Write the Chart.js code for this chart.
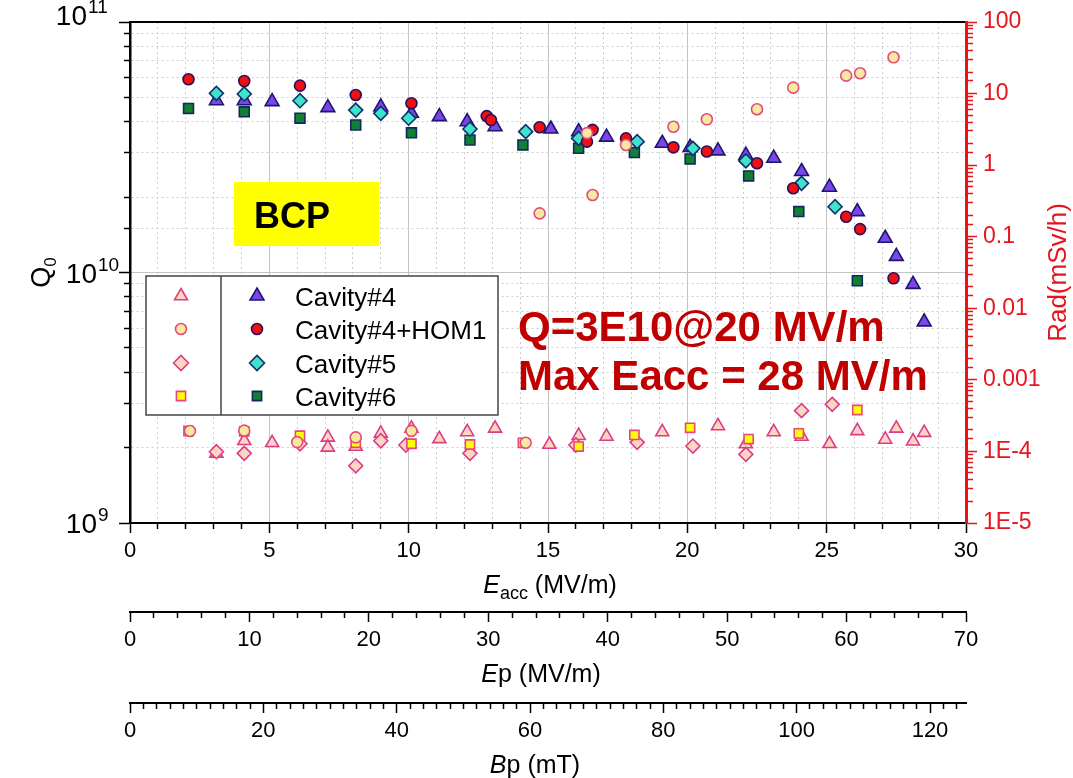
<!DOCTYPE html>
<html>
<head>
<meta charset="utf-8">
<script src="https://cdn.jsdelivr.net/npm/chart.js@4.4.1/dist/chart.umd.min.js"></script>
<style>
  html, body { margin: 0; padding: 0; background: #fff; }
  #chart { display: block; }
</style>
</head>
<body>
<canvas id="chart" width="1073" height="778"></canvas>
<script>
// Q0 vs Eacc (left axis)
const cav4E = [3.1, 4.1, 5.1, 7.1, 9.0, 10.1, 11.1, 12.1, 13.1, 15.1, 16.1, 17.1, 19.1, 20.1, 21.1, 22.1, 23.1, 24.1, 25.1, 26.1, 27.1, 27.5, 28.1, 28.5];
const cav4Q = [4.85e10, 4.85e10, 4.81e10, 4.55e10, 4.58e10, 4.32e10, 4.19e10, 4.0e10, 3.82e10, 3.74e10, 3.65e10, 3.47e10, 3.28e10, 3.16e10, 3.06e10, 2.94e10, 2.86e10, 2.53e10, 2.19e10, 1.75e10, 1.37e10, 1.16e10, 8.97e9, 6.35e9];

const hom1E = [2.1, 4.1, 6.1, 8.1, 10.1, 12.8, 12.95, 14.7, 16.4, 16.6, 17.8, 19.5, 20.7, 22.5, 23.8, 25.7, 26.2, 27.4];
const hom1Q = [5.91e10, 5.81e10, 5.57e10, 5.11e10, 4.74e10, 4.21e10, 4.06e10, 3.80e10, 3.33e10, 3.71e10, 3.43e10, 3.16e10, 3.04e10, 2.73e10, 2.17e10, 1.67e10, 1.49e10, 9.48e9];

const cav5E = [3.1, 4.1, 6.1, 8.1, 9.0, 10.0, 12.2, 14.2, 16.1, 18.2, 20.2, 22.1, 24.1, 25.3];
const cav5Q = [5.19e10, 5.16e10, 4.85e10, 4.45e10, 4.32e10, 4.13e10, 3.74e10, 3.65e10, 3.43e10, 3.33e10, 3.13e10, 2.79e10, 2.27e10, 1.83e10];

const cav6E = [2.1, 4.1, 6.1, 8.1, 10.1, 12.2, 14.1, 16.1, 18.1, 20.1, 22.2, 24.0, 26.1];
const cav6Q = [4.52e10, 4.38e10, 4.13e10, 3.88e10, 3.61e10, 3.38e10, 3.23e10, 3.13e10, 3.01e10, 2.84e10, 2.43e10, 1.75e10, 9.27e9];

// radiation (mSv/h) vs Eacc (right axis)
const rad4E = [3.1, 4.1, 5.1, 7.1, 7.1, 8.1, 9.0, 10.1, 11.1, 12.1, 13.1, 15.05, 16.1, 17.1, 19.1, 21.1, 22.1, 23.1, 24.1, 25.1, 26.1, 27.1, 27.5, 28.1, 28.5];
const rad4 = [9.4e-5, 1.41e-4, 1.32e-4, 1.57e-4, 1.14e-4, 1.17e-4, 1.79e-4, 2.1e-4, 1.5e-4, 1.87e-4, 2.1e-4, 1.25e-4, 1.66e-4, 1.62e-4, 1.87e-4, 2.27e-4, 1.27e-4, 1.87e-4, 1.62e-4, 1.28e-4, 1.94e-4, 1.47e-4, 2.1e-4, 1.39e-4, 1.83e-4];

const radHom1E = [2.15, 4.1, 6.0, 8.1, 10.1, 14.2, 14.7, 16.4, 16.6, 17.8, 19.5, 20.7, 22.5, 23.8, 25.7, 26.2, 27.4];
const radHom1 = [1.93e-4, 1.95e-4, 1.35e-4, 1.57e-4, 1.94e-4, 1.32e-4, 0.212, 2.8, 0.383, 1.91, 3.44, 4.37, 6.03, 12.1, 17.8, 19.2, 32.1];

const rad5E = [3.1, 4.1, 6.1, 8.1, 9.0, 9.9, 12.2, 16.0, 18.2, 20.2, 22.1, 24.1, 25.2];
const rad5 = [9.9e-5, 9.4e-5, 1.28e-4, 6.3e-5, 1.41e-4, 1.23e-4, 9.4e-5, 1.23e-4, 1.34e-4, 1.19e-4, 9.1e-5, 3.71e-4, 4.55e-4];

const rad6E = [2.1, 4.1, 6.1, 8.1, 10.1, 12.2, 14.1, 16.1, 18.1, 20.1, 22.2, 24.0, 26.1];
const rad6 = [1.93e-4, 1.9e-4, 1.66e-4, 1.32e-4, 1.28e-4, 1.25e-4, 1.32e-4, 1.17e-4, 1.7e-4, 2.14e-4, 1.49e-4, 1.79e-4, 3.79e-4];

const seriesNames = ['Cavity#4', 'Cavity#4+HOM1', 'Cavity#5', 'Cavity#6'];
const qTickExps = [9, 10, 11];
const radTickLabels = ['1E-5', '1E-4', '0.001', '0.01', '0.1', '1', '10', '100'];
const note1 = 'Q=3E10@20 MV/m';
const note2 = 'Max Eacc = 28 MV/m';
const boxText = 'BCP';

const FONT = '"Liberation Sans", Arial, sans-serif';
Chart.defaults.font.family = FONT;

const qStyles = [
  {style: 'triangle', r: 8, bg: '#7d45e6', bd: '#1b1670'},
  {style: 'circle', r: 5.5, bg: '#f01010', bd: '#2c0f5a'},
  {style: 'rectRot', r: 7, bg: '#3fe3cc', bd: '#12306c'},
  {style: 'rect', r: 7, bg: '#118033', bd: '#0f2a5e'}
];
const radStyles = [
  {style: 'triangle', r: 7.5, bg: '#fcd6c2', bd: '#dc3c86'},
  {style: 'circle', r: 5.5, bg: '#f9e8a2', bd: '#e24c78'},
  {style: 'rectRot', r: 7, bg: '#fcd6c2', bd: '#dc3c86'},
  {style: 'rect', r: 6.5, bg: '#ffff00', bd: '#e8467c'}
];

function pts(xs, ys) {
  return xs.map((x, i) => ({x: x, y: ys[i]}));
}

function makeSet(label, data, st, axis, order) {
  return {
    label: label,
    data: data,
    yAxisID: axis,
    pointStyle: st.style,
    pointRadius: st.r,
    backgroundColor: st.bg,
    borderColor: st.bd,
    borderWidth: 1.6,
    order: order
  };
}

function isDecade(v) {
  const l = Math.log10(v);
  return Math.abs(l - Math.round(l)) < 1e-6;
}
function isMinorStep(c, step) {
  if (!c || !c.tick) return false;
  const k = c.tick.value / step;
  return Math.abs(k - Math.round(k)) > 1e-6;
}
function isMinorLog(c) {
  return !!(c && c.tick) && !isDecade(c.tick.value);
}

const GRID_MAJ = '#c4c4c4';
const GRID_MIN = '#cdcdcd';

function bottomAxis(min, max, step, labelStep, weight, height, onChart) {
  return {
    type: 'linear',
    position: 'bottom',
    min: min,
    max: max,
    weight: weight,
    afterFit: s => { s.height = height; },
    ticks: {
      stepSize: step,
      autoSkip: false,
      maxRotation: 0,
      includeBounds: false,
      color: '#000',
      font: {size: 22},
      padding: 5,
      callback: v => isMinorStep({tick: {value: v}}, labelStep) ? '' : String(v)
    },
    grid: {
      drawOnChartArea: onChart,
      color: c => isMinorStep(c, labelStep) ? GRID_MIN : GRID_MAJ,
      lineWidth: 1,
      tickLength: 10,
      tickColor: '#000',
      tickWidth: 1.5,
      tickBorderDash: c => isMinorStep(c, labelStep) ? [5, 100] : []
    },
    border: {
      color: '#000',
      width: 2,
      dash: c => isMinorStep(c, labelStep) ? [2, 3] : []
    }
  };
}

const xScale = bottomAxis(0, 30, 1, 5, 0, 89, true);
const epScale = bottomAxis(0, 70, 2, 10, 1, 91, false);
const bpScale = bottomAxis(0, 125.4, 2, 20, 2, 75, false);

const decor = {
  id: 'decor',
  beforeDatasetsDraw(chart) {
    const ctx = chart.ctx;
    ctx.save();
    // BCP box
    ctx.fillStyle = '#ffff00';
    ctx.fillRect(234, 182, 145, 64);
    ctx.fillStyle = '#000';
    ctx.font = 'bold 36px ' + FONT;
    ctx.textAlign = 'left';
    ctx.textBaseline = 'alphabetic';
    ctx.fillText(boxText, 254, 228);

    // notes
    ctx.fillStyle = '#c00000';
    ctx.font = 'bold 42px ' + FONT;
    ctx.fillText(note1, 518, 341);
    ctx.fillText(note2, 518, 390);

    // legend
    const lx = 146, ly = 276, lw = 352, lh = 139, div = 221;
    const rows = [296, 329, 363, 396];
    ctx.fillStyle = '#fff';
    ctx.fillRect(lx, ly, lw, lh);
    ctx.strokeStyle = '#444';
    ctx.lineWidth = 1.5;
    ctx.strokeRect(lx, ly, lw, lh);
    ctx.beginPath();
    ctx.moveTo(div, ly);
    ctx.lineTo(div, ly + lh);
    ctx.stroke();
    const legR = [[7.5, 5.5, 7.5, 6.5], [8, 5.5, 7.5, 6.5]];
    rows.forEach((ry, i) => {
      [[radStyles[i], 181, legR[0][i]], [qStyles[i], 257, legR[1][i]]].forEach(([st, mx, r]) => {
        ctx.fillStyle = st.bg;
        ctx.strokeStyle = st.bd;
        ctx.lineWidth = 1.6;
        Chart.helpers.drawPoint(ctx, {pointStyle: st.style, radius: r, rotation: 0, borderWidth: 1.6}, mx, ry);
      });
      ctx.fillStyle = '#000';
      ctx.font = '26px ' + FONT;
      ctx.fillText(seriesNames[i], 295, ry + 9.5);
    });
    ctx.restore();
  },
  afterDraw(chart) {
    const ctx = chart.ctx;
    const ys = chart.scales.y;
    ctx.save();
    ctx.textBaseline = 'alphabetic';
    ctx.fillStyle = '#000';
    // Q0 tick labels with superscripts
    qTickExps.forEach((e, i) => {
      const py = ys.getPixelForValue(Math.pow(10, e));
      const top = i === qTickExps.length - 1;
      const base = py + 10 - (top ? 7 : 0);
      const xEnd = top ? 87 : 97;
      ctx.font = '28px ' + FONT;
      ctx.textAlign = 'right';
      ctx.fillText('10', xEnd, base);
      ctx.font = '19px ' + FONT;
      ctx.textAlign = 'left';
      ctx.fillText(String(e), xEnd + 1, base - 12);
    });

    // Q0 title (rotated)
    ctx.save();
    ctx.translate(50, (chart.chartArea.top + chart.chartArea.bottom) / 2);
    ctx.rotate(-Math.PI / 2);
    ctx.font = '27px ' + FONT;
    const wq = ctx.measureText('Q').width;
    ctx.font = '17px ' + FONT;
    const w0 = ctx.measureText('0').width;
    ctx.textAlign = 'left';
    ctx.font = '27px ' + FONT;
    ctx.fillText('Q', -(wq + w0) / 2, 0);
    ctx.font = '17px ' + FONT;
    ctx.fillText('0', -(wq + w0) / 2 + wq, 6);
    ctx.restore();

    // Rad title (rotated, red)
    ctx.save();
    ctx.translate(1066, (chart.chartArea.top + chart.chartArea.bottom) / 2);
    ctx.rotate(-Math.PI / 2);
    ctx.fillStyle = '#e8141c';
    ctx.font = '26px ' + FONT;
    ctx.textAlign = 'center';
    ctx.fillText('Rad(mSv/h)', 0, 0);
    ctx.restore();

    // bottom axis titles
    function titleParts(parts, cx, base) {
      let total = 0;
      parts.forEach(p => { ctx.font = p.f; p.w = ctx.measureText(p.t).width; total += p.w; });
      let x = cx - total / 2;
      ctx.textAlign = 'left';
      parts.forEach(p => { ctx.font = p.f; ctx.fillText(p.t, x, base + (p.dy || 0)); x += p.w; });
    }
    ctx.fillStyle = '#000';
    titleParts([
      {t: 'E', f: 'italic 25px ' + FONT},
      {t: 'acc', f: '18px ' + FONT, dy: 6},
      {t: ' (MV/m)', f: '25px ' + FONT}
    ], 550, chart.scales.x.top + 70);
    titleParts([
      {t: 'E', f: 'italic 25px ' + FONT},
      {t: 'p (MV/m)', f: '25px ' + FONT}
    ], 541, chart.scales.ep.top + 70);
    titleParts([
      {t: 'B', f: 'italic 25px ' + FONT},
      {t: 'p (mT)', f: '25px ' + FONT}
    ], 535, chart.scales.bp.top + 70);
    ctx.restore();
  }
};

new Chart(document.getElementById('chart'), {
  type: 'scatter',
  data: {
    datasets: [
      makeSet('Cavity#4', pts(cav4E, cav4Q), qStyles[0], 'y', 8),
      makeSet('Cavity#6', pts(cav6E, cav6Q), qStyles[3], 'y', 7),
      makeSet('Cavity#5', pts(cav5E, cav5Q), qStyles[2], 'y', 6),
      makeSet('Cavity#4+HOM1', pts(hom1E, hom1Q), qStyles[1], 'y', 5),
      makeSet('Rad Cavity#4', pts(rad4E, rad4), radStyles[0], 'rad', 4),
      makeSet('Rad Cavity#5', pts(rad5E, rad5), radStyles[2], 'rad', 3),
      makeSet('Rad Cavity#6', pts(rad6E, rad6), radStyles[3], 'rad', 2),
      makeSet('Rad Cavity#4+HOM1', pts(radHom1E, radHom1), radStyles[1], 'rad', 1)
    ]
  },
  options: {
    responsive: false,
    animation: false,
    events: [],
    layout: {padding: 0},
    plugins: {
      legend: {display: false},
      tooltip: {enabled: false}
    },
    scales: {
      x: xScale,
      ep: epScale,
      bp: bpScale,
      xTop: {
        type: 'linear',
        position: 'top',
        min: 0,
        max: 30,
        afterFit: s => { s.height = 22; },
        ticks: {display: false},
        grid: {display: false},
        border: {color: '#000', width: 2}
      },
      y: {
        type: 'logarithmic',
        position: 'left',
        min: 1e9,
        max: 1e11,
        afterFit: s => { s.width = 130; },
        ticks: {display: false, autoSkip: false},
        grid: {
          color: c => isMinorLog(c) ? GRID_MIN : GRID_MAJ,
          lineWidth: 1,
          tickLength: 11,
          tickColor: '#000',
          tickWidth: 1.5,
          tickBorderDash: c => isMinorLog(c) ? [0, 5, 6, 100] : []
        },
        border: {
          color: '#000',
          width: 2.5,
          dash: c => isMinorLog(c) ? [2, 3] : []
        }
      },
      rad: {
        type: 'logarithmic',
        position: 'right',
        min: 1e-5,
        max: 100,
        afterFit: s => { s.width = 107; },
        ticks: {
          autoSkip: false,
          color: '#e8141c',
          font: {size: 23},
          padding: 6,
          callback: v => isDecade(v) ? radTickLabels[Math.round(Math.log10(v)) + 5] : ''
        },
        grid: {
          drawOnChartArea: false,
          tickLength: 11,
          tickColor: '#e8141c',
          tickWidth: 1.5,
          tickBorderDash: c => isMinorLog(c) ? [5, 100] : []
        },
        border: {color: '#ee1111', width: 3}
      }
    }
  },
  plugins: [decor]
});
</script>
</body>
</html>
